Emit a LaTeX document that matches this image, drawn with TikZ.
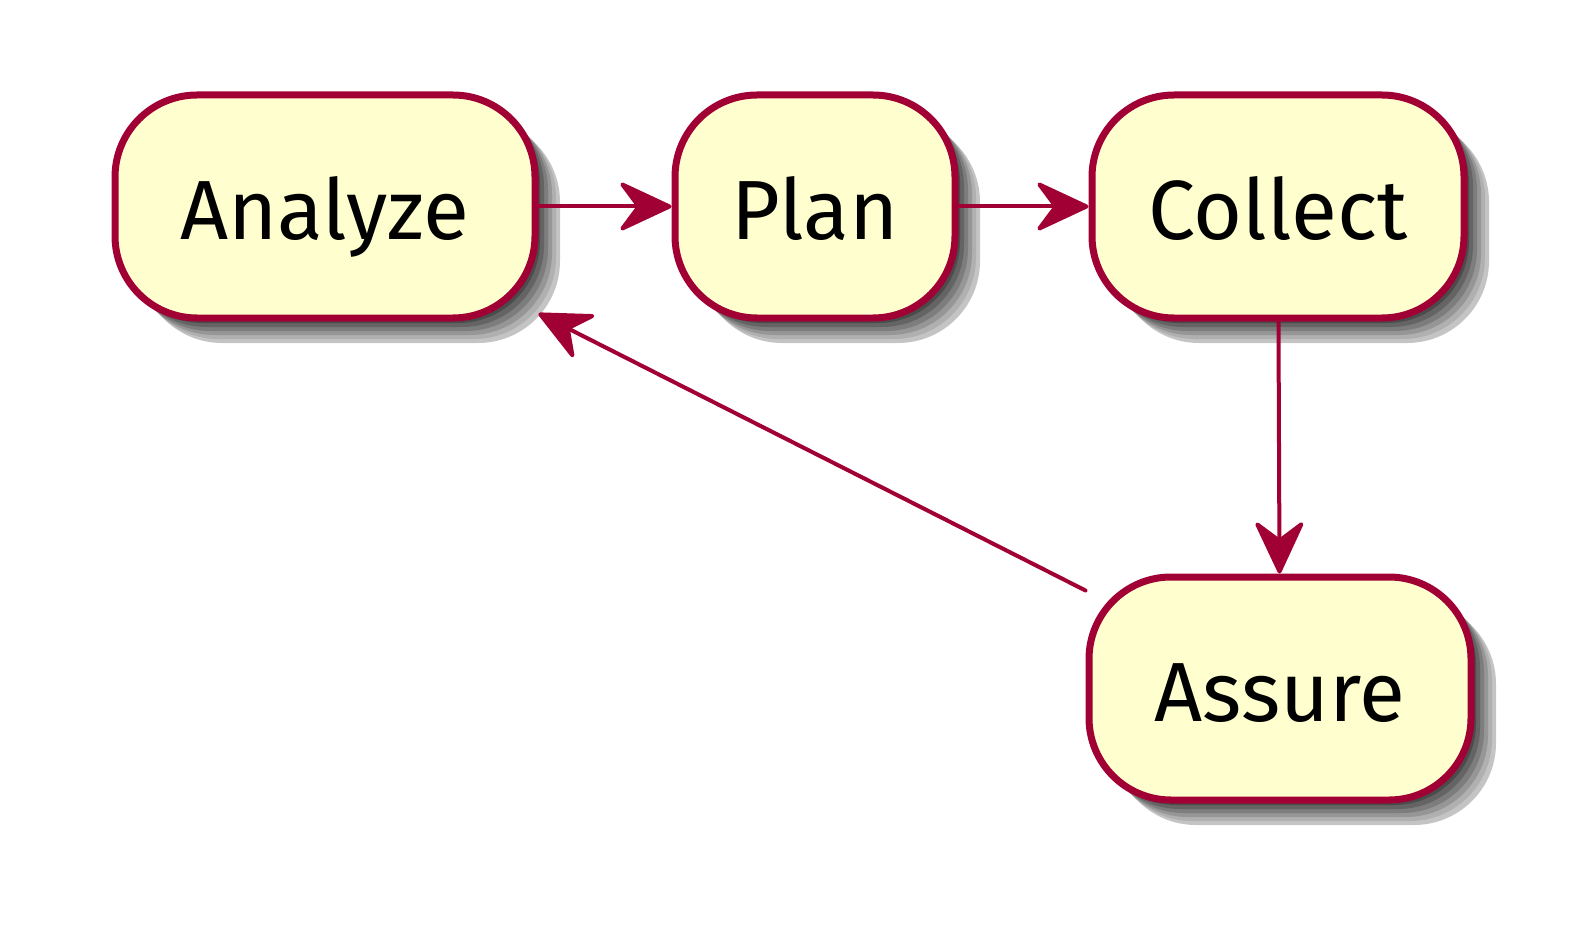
\documentclass[tikz,border=0pt]{standalone}
\usepackage{fontspec}
\setsansfont{Fira Sans}
\usepackage{xcolor}
\usepackage{tikz}
\usetikzlibrary{arrows.meta,shadows}
\definecolor{puBorder}{HTML}{A10034}
\definecolor{puFill}{HTML}{FEFECE}
\definecolor{puShadow}{HTML}{2E2E2E}
\tikzset{
  pu diagram/.style={font=\sffamily\fontsize{42}{50}\selectfont, text=black,
    line cap=round, line join=round, x=0.5pt, y=-0.5pt},
  pu shade/.style 2 args={general shadow={fill=puShadow!#2, draw=none,
    shadow xshift=#1, shadow yshift=-#1}},
  pu box/.style={draw=puBorder, fill=puFill, line width=3.5pt,
    rounded corners=41pt, minimum height=111.5pt, inner sep=0pt,
    text height=33pt, text depth=0pt,
    pu shade={12.5pt}{28}, pu shade={10.5pt}{38}, pu shade={8.5pt}{50},
    pu shade={6.5pt}{62}, pu shade={4.5pt}{74}, pu shade={2.5pt}{86}},
  pu arrow/.style={-{Stealth[length=29pt, width=27pt, inset=10pt, round]},
    draw=puBorder, line width=2pt}
}
\begin{document}
\begin{tikzpicture}[pu diagram]
\useasboundingbox (0,0) rectangle (1584,936);
\node[pu box,minimum width=210pt] (analyze) at (325,206.5) {Analyze};
\node[pu box,minimum width=140pt] (plan) at (815,206.5) {Plan};
\node[pu box,minimum width=186pt] (collect) at (1278,206.5) {Collect};
\node[pu box,minimum width=191pt] (assure) at (1280,688.5) {Assure};
\draw[pu arrow] (analyze) -- (plan);
\draw[pu arrow] (plan) -- (collect);
\draw[pu arrow] (collect) -- (assure);
\draw[pu arrow] ([yshift=-8.5pt]assure.north west) -- ([yshift=4pt]analyze.south east);
\end{tikzpicture}
\end{document}
